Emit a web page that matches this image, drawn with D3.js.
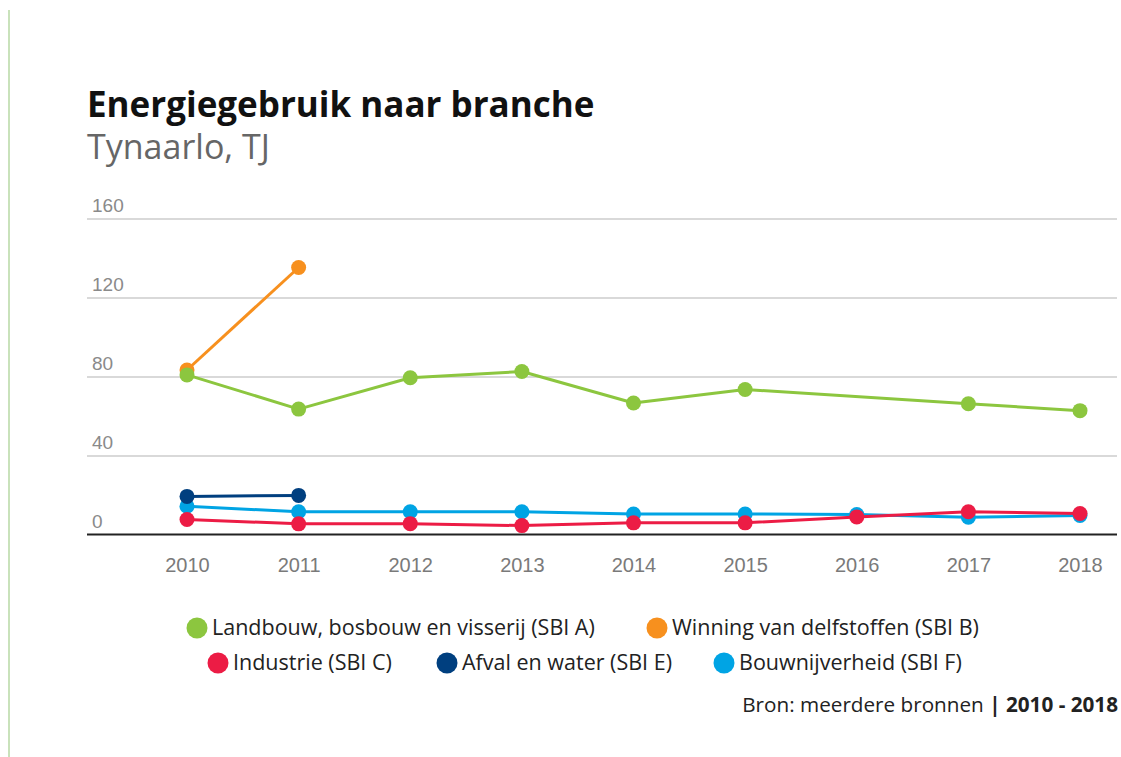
<!DOCTYPE html>
<html><head><meta charset="utf-8">
<script src="https://cdn.jsdelivr.net/npm/d3@7"></script>
<style>
html,body{margin:0;padding:0;background:#fff;}
svg{display:block;}
</style></head>
<body>
<svg id="chart" width="1121" height="757"></svg>
<script>
const years = [2010, 2011, 2012, 2013, 2014, 2015, 2016, 2017, 2018];
const yTicks = [0, 40, 80, 120, 160];
const seriesNames = [
  "Landbouw, bosbouw en visserij (SBI A)",
  "Winning van delfstoffen (SBI B)",
  "Industrie (SBI C)",
  "Afval en water (SBI E)",
  "Bouwnijverheid (SBI F)"
];
const seriesColors = ["#8cc63f", "#f7901e", "#ec1c45", "#003f7f", "#00a4e4"];
const valuesA = [80.8, 63.5, 79.4, 82.5, 66.6, 73.4, null, 66.2, 62.7];
const valuesB = [83.3, 135.2, null, null, null, null, null, null, null];
const valuesC = [7.6, 5.4, 5.5, 4.5, 5.9, 5.9, 8.9, 11.5, 10.6];
const valuesE = [19.3, 19.8, null, null, null, null, null, null, null];
const valuesF = [14.3, 11.5, 11.5, 11.5, 10.4, 10.4, 10.1, 8.7, 9.6];
const seriesValues = [valuesA, valuesB, valuesC, valuesE, valuesF];
const drawOrder = [1, 0, 4, 2, 3];

const svg = d3.select("#chart");

// left decorative rule
svg.append("line").attr("x1", 9).attr("x2", 9).attr("y1", 10).attr("y2", 757)
  .attr("stroke", "#c9e2bb").attr("stroke-width", 2);

svg.append("text").attr("x", 87).attr("y", 117)
  .attr("font-family", "'Open Sans', Lato, sans-serif").attr("font-weight", 700)
  .attr("font-size", 35).attr("fill", "#111").text("Energiegebruik naar branche");
svg.append("text").attr("x", 87).attr("y", 159)
  .attr("font-family", "'Open Sans', Lato, sans-serif").attr("font-weight", 400)
  .attr("font-size", 34).attr("fill", "#666").text("Tynaarlo, TJ");

const pLeft = 87, pRight = 1117, pTop = 218.5, pBottom = 534.5;
const x = d3.scalePoint().domain(years).range([187, 1080]);
const y = d3.scaleLinear().domain([0, 160]).range([pBottom, pTop]);

// gridlines
const grid = svg.append("g").attr("transform", `translate(${pLeft},0)`)
  .call(d3.axisLeft(y).tickValues(yTicks.filter(d => d > 0)).tickSize(-(pRight - pLeft)).tickFormat(""));
grid.select(".domain").remove();
grid.selectAll(".tick line").attr("stroke", "#d9d9d9").attr("stroke-width", 2);

// y labels
svg.append("g").selectAll("text").data(yTicks).join("text")
  .attr("x", 92).attr("y", d => y(d) - 7)
  .attr("font-family", "'Liberation Sans', sans-serif")
  .attr("font-size", 19).attr("fill", "#8a8a8a").text(d => d);

// x axis
const xa = svg.append("g").attr("transform", `translate(0,${pBottom})`)
  .call(d3.axisBottom(x).tickSize(0).tickPadding(23));
xa.select(".domain").remove();
xa.selectAll("text").attr("font-family", "'Liberation Sans', sans-serif")
  .attr("font-size", 20).attr("fill", "#7a7a7a");
svg.append("line").attr("x1", pLeft).attr("x2", pRight).attr("y1", pBottom).attr("y2", pBottom)
  .attr("stroke", "#222").attr("stroke-width", 2);

// series
const line = d3.line().x(d => x(d.year)).y(d => y(d.v));
drawOrder.forEach(i => {
  const pts = years.map((yr, j) => ({year: yr, v: seriesValues[i][j]})).filter(d => d.v !== null);
  const g = svg.append("g");
  g.append("path").datum(pts).attr("d", line).attr("fill", "none")
    .attr("stroke", seriesColors[i]).attr("stroke-width", 3).attr("stroke-linejoin", "round");
  g.selectAll("circle").data(pts).join("circle")
    .attr("cx", d => x(d.year)).attr("cy", d => y(d.v)).attr("r", 7.5)
    .attr("fill", seriesColors[i]);
});

// legend
const legendPos = [
  {cx: 197, cy: 628}, {cx: 657, cy: 628},
  {cx: 218, cy: 663}, {cx: 447, cy: 663}, {cx: 724, cy: 663}
];
const lg = svg.append("g");
seriesNames.forEach((name, i) => {
  lg.append("circle").attr("cx", legendPos[i].cx).attr("cy", legendPos[i].cy).attr("r", 10.5)
    .attr("fill", seriesColors[i]);
  lg.append("text").attr("x", legendPos[i].cx + 15).attr("y", legendPos[i].cy + 7)
    .attr("font-family", "'Open Sans', Lato, sans-serif").attr("font-size", 21.5)
    .attr("fill", "#222").text(name);
});

const src = svg.append("text").attr("x", 1118).attr("y", 712).attr("text-anchor", "end")
  .attr("font-family", "'Open Sans', Lato, sans-serif").attr("font-size", 20.7).attr("fill", "#222");
src.append("tspan").text("Bron: meerdere bronnen ");
src.append("tspan").attr("font-weight", 700).text("| 2010 - 2018");
</script>
</body></html>
